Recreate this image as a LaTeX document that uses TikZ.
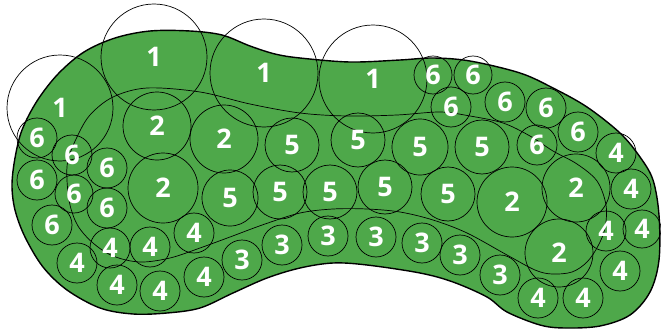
\documentclass[tikz,border=0pt]{standalone}
\usepackage{fontspec}
\setmainfont{Open Sans}
\definecolor{turf}{RGB}{78,168,74}
\begin{document}
\begin{tikzpicture}[x=1pt,y=-1pt,
  ring/.style={circle,draw=black,line width=0.7pt,inner sep=0pt,text=white,
    font=\fontsize{27}{27}\selectfont\bfseries},
  zone/.style={draw=black,line width=0.7pt},
  edge/.style={draw=black,line width=1.4pt}]
\useasboundingbox (0,0) rectangle (661,329);
\def\blobpts{(12,185) (15,158) (22,130) (37,101) (58,74) (84,52) (115,38)
 (150,31) (190,31) (222,35)
 (250,46) (275,54) (300,58) (350,62) (400,60) (433,58) (470,61) (520,73)
 (553,88) (587,107) (620,133) (640,157) (653,180) (659,215) (659,260)
 (650,292) (630,315) (600,326) (565,328) (540,325) (507,312) (487,297)
 (453,282) (420,273) (367,265) (333,263) (300,268) (267,278) (233,293)
 (200,308) (167,313) (133,314) (100,308) (67,290) (43,267) (25,237) (15,210)}
% green area
\fill[turf] plot[smooth cycle,tension=0.55] coordinates {\blobpts};
% zone boundary
\draw[zone] plot[smooth cycle,tension=0.55] coordinates {
 (70,205) (67,180) (68,160) (77,137) (90,115) (113,97) (147,88) (200,92)
 (250,104) (300,113) (347,116) (397,115) (440,112) (470,116) (503,123)
 (530,136) (553,151) (577,164) (597,181) (606,205) (605,228) (598,246)
 (587,262) (572,272) (552,274) (535,270) (507,255) (467,233) (433,220)
 (400,212) (367,209) (333,209) (300,213) (265,224) (230,237) (200,248)
 (170,258) (140,262) (113,256) (93,243) (78,226)};
% type 1
\node[ring,minimum size=106pt] (a1) at (154,57) {1};
\node[ring,minimum size=106pt] (b1) at (60,108) {1};
\node[ring,minimum size=108pt] (c1) at (264,73) {1};
\node[ring,minimum size=108pt] (d1) at (373,79) {1};
% type 2
\node[ring,minimum size=68pt] (a2) at (157,126) {2};
\node[ring,minimum size=68pt] (b2) at (224,139) {2};
\node[ring,minimum size=70pt] (c2) at (163,188) {2};
\node[ring,minimum size=70pt] (d2) at (512,202) {2};
\node[ring,minimum size=68pt] (e2) at (576,188) {2};
\node[ring,minimum size=68pt] (f2) at (559,253) {2};
% type 5
\node[ring,minimum size=54pt] (a5) at (292,145) {5};
\node[ring,minimum size=54pt] (b5) at (358,140) {5};
\node[ring,minimum size=56pt] (c5) at (420,147) {5};
\node[ring,minimum size=54pt] (d5) at (482,147) {5};
\node[ring,minimum size=56pt] (e5) at (230,198) {5};
\node[ring,minimum size=54pt] (f5) at (280,192) {5};
\node[ring,minimum size=54pt] (g5) at (330,192) {5};
\node[ring,minimum size=54pt] (h5) at (385,187) {5};
\node[ring,minimum size=54pt] (i5) at (448,194) {5};
% type 6
\node[ring,minimum size=40pt] (a6) at (37,138) {6};
\node[ring,minimum size=40pt] (b6) at (72,155) {6};
\node[ring,minimum size=40pt] (c6) at (107,168) {6};
\node[ring,minimum size=40pt] (d6) at (37,180) {6};
\node[ring,minimum size=38pt] (e6) at (74,194) {6};
\node[ring,minimum size=40pt] (f6) at (107,208) {6};
\node[ring,minimum size=40pt] (g6) at (52,225) {6};
\node[ring,minimum size=38pt] (h6) at (433,75) {6};
\node[ring,minimum size=38pt] (i6) at (473,75) {6};
\node[ring,minimum size=40pt] (j6) at (451,107) {6};
\node[ring,minimum size=40pt] (k6) at (505,102) {6};
\node[ring,minimum size=40pt] (l6) at (546,108) {6};
\node[ring,minimum size=40pt] (m6) at (578,132) {6};
\node[ring,minimum size=40pt] (n6) at (537,145) {6};
% type 4
\node[ring,minimum size=40pt] (a4) at (616,153) {4};
\node[ring,minimum size=40pt] (b4) at (631,189) {4};
\node[ring,minimum size=40pt] (c4) at (606,231) {4};
\node[ring,minimum size=38pt] (d4) at (642,229) {4};
\node[ring,minimum size=40pt] (e4) at (620,271) {4};
\node[ring,minimum size=40pt] (f4) at (538,298) {4};
\node[ring,minimum size=40pt] (g4) at (583,298) {4};
\node[ring,minimum size=40pt] (h4) at (110,248) {4};
\node[ring,minimum size=40pt] (i4) at (150,247) {4};
\node[ring,minimum size=40pt] (j4) at (194,233) {4};
\node[ring,minimum size=40pt] (k4) at (77,263) {4};
\node[ring,minimum size=40pt] (l4) at (117,285) {4};
\node[ring,minimum size=40pt] (m4) at (160,291) {4};
\node[ring,minimum size=40pt] (n4) at (204,277) {4};
% type 3
\node[ring,minimum size=40pt] (a3) at (242,260) {3};
\node[ring,minimum size=40pt] (b3) at (282,245) {3};
\node[ring,minimum size=40pt] (c3) at (328,236) {3};
\node[ring,minimum size=40pt] (d3) at (376,237) {3};
\node[ring,minimum size=40pt] (e3) at (422,243) {3};
\node[ring,minimum size=40pt] (f3) at (460,255) {3};
\node[ring,minimum size=40pt] (g3) at (500,275) {3};
% outline
\draw[edge] plot[smooth cycle,tension=0.55] coordinates {\blobpts};
\end{tikzpicture}
\end{document}
